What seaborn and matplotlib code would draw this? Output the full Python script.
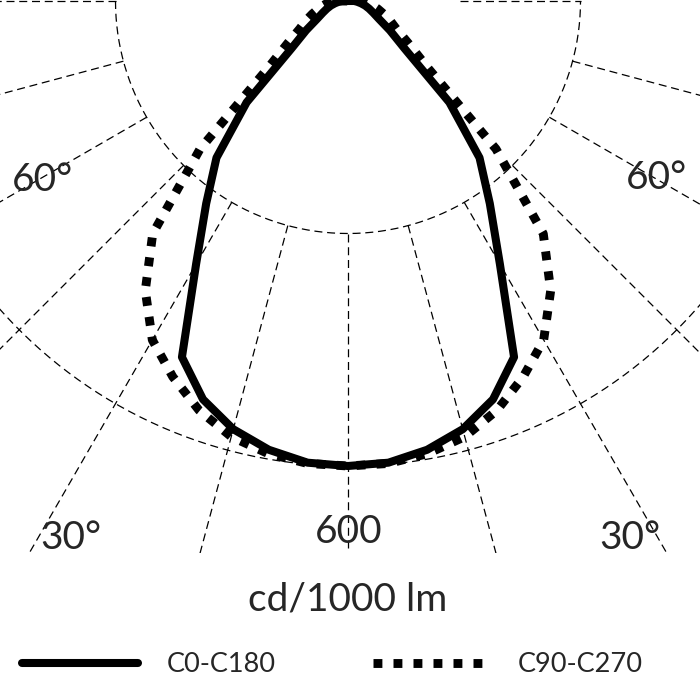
import numpy as np
import pandas as pd
import matplotlib
matplotlib.use("Agg")
import matplotlib.pyplot as plt
from matplotlib.patches import Rectangle
import seaborn as sns

# luminous intensity distribution, cd/1000 lm, gamma angles in degrees
gamma = [0, 5, 10, 15, 20, 25, 30, 35, 40, 45, 50, 55, 60, 65, 70, 75, 80, 85, 90]
c0_c180 = [600, 598, 588, 572, 547, 507, 392, 319, 264, 185, 95, 66, 46, 36, 29, 23, 17, 12, 8]
c90_c270 = [600, 599, 593, 582, 562, 535, 505, 456, 392, 270, 135, 95, 72, 60, 49, 40, 32, 26, 21]
planes = ["C0-C180", "C90-C270"]

grid_radii = [300, 600]
grid_angles = [0, 15, 30, 45, 60, 75]
angle_labels = ["60°", "60°", "30°", "30°"]
radius_label = "600"
unit_label = "cd/1000 lm"

sns.set_theme(style="white")
plt.rcParams["font.family"] = ["Lato", "DejaVu Sans"]

W = H = 700
fig = plt.figure(figsize=(7, 7), dpi=100)

# polar origin sits at the top edge of the picture
px_per_cd = 0.775
rmax = 1100
cx, cy = 348, 1  # pixels from the top-left corner
R = rmax * px_per_cd
ax = fig.add_axes([(cx - R) / W, (H - cy - R) / H, 2 * R / W, 2 * R / H],
                  projection="polar")
ax.set_theta_zero_location("S")
ax.set_theta_direction(1)

# build one closed curve per plane (mirror of the two half planes)
rows = []
for name, vals in zip(planes, [c0_c180, c90_c270]):
    th = [-g for g in gamma[::-1]] + gamma[1:] + [-gamma[-1]]
    rr = vals[::-1] + vals[1:] + [vals[-1]]
    for t, r in zip(th, rr):
        rows.append({"theta": np.deg2rad(t), "cd": r, "plane": name})
df = pd.DataFrame(rows)

sns.lineplot(data=df, x="theta", y="cd", hue="plane", style="plane",
             palette=["black", "black"],
             dashes={"C0-C180": "", "C90-C270": (1.0, 1.25)},
             sort=False, estimator=None, legend=False, ax=ax, zorder=5)
curves = ax.get_lines()[:2]
curves[0].set_linewidth(5.8)
curves[1].set_linewidth(6.4)
for ln in curves:
    ln.set_solid_joinstyle("round")

# dashed grid, cut off at a horizontal edge below the "600" label
clip = Rectangle((0, 1 - 553 / H), 1, 553 / H, transform=fig.transFigure)
grid_kw = dict(color="black", lw=0.9, dashes=(6.4, 3.8), zorder=1)
arc = np.deg2rad(np.linspace(-90, 90, 361))
for r in grid_radii:
    ax.plot(arc, np.full_like(arc, r), **grid_kw)
for a in grid_angles:
    for s in ([1] if a == 0 else [-1, 1]):
        ln, = ax.plot(np.deg2rad([s * a, s * a]), [grid_radii[0], rmax], **grid_kw)
        ln.set_clip_path(clip)
ax.plot(np.deg2rad([-90, -90]), [grid_radii[0], rmax], **grid_kw)
ax.plot(np.deg2rad([90, 90]), [145, grid_radii[0]], **grid_kw)

ax.set_ylim(0, rmax)
ax.grid(False)
ax.set_xticks([])
ax.set_yticks([])
ax.set_xlabel("")
ax.set_ylabel("")
ax.spines["polar"].set_visible(False)

# labels
lab_pos = [(42, 180), (657, 178), (71, 538), (630, 538)]
for txt, (x, y) in zip(angle_labels, lab_pos):
    fig.text(x / W, 1 - y / H, txt, ha="center", va="center", fontsize=28)
fig.text(349 / W, 1 - 532 / H, radius_label, ha="center", va="center", fontsize=28)
fig.text(348 / W, 1 - 600 / H, unit_label, ha="center", va="center", fontsize=28)

fig.legend(curves, planes, loc="center", bbox_to_anchor=(0.475, 1 - 665 / H),
           ncol=2, frameon=False, fontsize=19.5, handlelength=4.3,
           handletextpad=1.05, columnspacing=3.6)

fig.savefig("out.png", dpi=100)
